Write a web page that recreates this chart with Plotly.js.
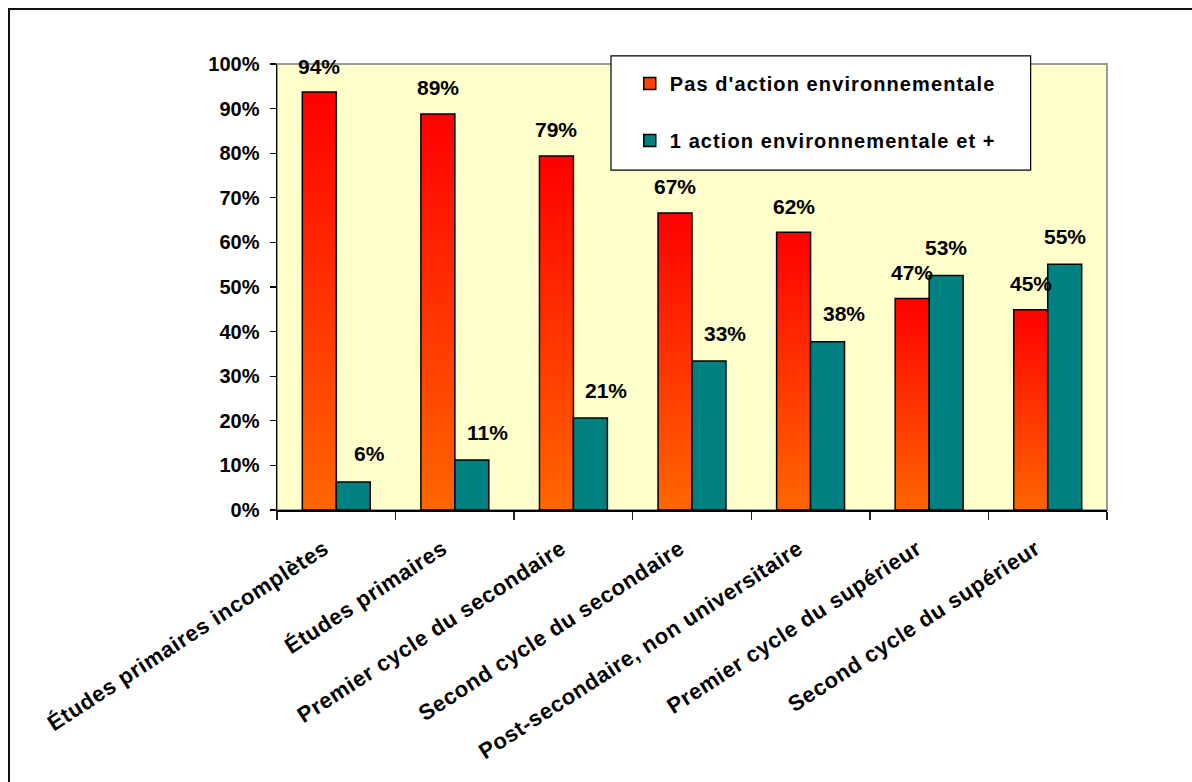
<!DOCTYPE html>
<html>
<head>
<meta charset="utf-8">
<script src="https://cdn.plot.ly/plotly-3.0.1.min.js"></script>
<style>
  html, body { margin: 0; padding: 0; background: #fff; }
  #wrap { position: relative; width: 1192px; height: 782px; overflow: hidden; }
  #chart { position: absolute; left: 0; top: 0; width: 1192px; height: 782px; }
  #frame { position: absolute; left: 8px; top: 8px; width: 1300px; height: 900px;
           border-left: 2px solid #111; border-top: 2px solid #111; pointer-events: none; }
  .xtick text { letter-spacing: 0.6px; }
  .legendtext { letter-spacing: 1.1px; }
</style>
</head>
<body>
<div id="wrap">
  <div id="chart"></div>
  <div id="frame"></div>
</div>
<script>
const categories = [
  "Études primaires incomplètes",
  "Études primaires",
  "Premier cycle du secondaire",
  "Second cycle du secondaire",
  "Post-secondaire, non universitaire",
  "Premier cycle du supérieur",
  "Second cycle du supérieur"
];
const seriesNames = ["Pas d'action environnementale", "1 action environnementale et +"];
const noAction = [93.7, 88.8, 79.4, 66.6, 62.3, 47.4, 44.9];
const withAction = [6.3, 11.2, 20.6, 33.4, 37.7, 52.6, 55.1];
const yTickValues = [0, 10, 20, 30, 40, 50, 60, 70, 80, 90, 100];
const yTickLabels = ["0%", "10%", "20%", "30%", "40%", "50%", "60%", "70%", "80%", "90%", "100%"];

const FONT = "Liberation Sans, Arial, sans-serif";
const RED = "#FF4400";
const TEAL = "#008080";

const traces = [
  {
    type: "bar", name: seriesNames[0], x: categories, y: noAction,
    marker: { color: RED, line: { color: "#000", width: 1.5 } },
    legendgroup: "a", hoverinfo: "skip"
  },
  {
    type: "bar", name: seriesNames[1], x: categories, y: withAction,
    marker: { color: TEAL, line: { color: "#000", width: 1.5 } },
    legendgroup: "b", hoverinfo: "skip"
  }
];

const labelFont = { family: FONT, size: 21, color: "#000", weight: "bold" };
const annotations = [];
categories.forEach((c, i) => {
  annotations.push({
    x: c, y: noAction[i], xref: "x", yref: "y", showarrow: false,
    text: "<b>" + Math.round(noAction[i]) + "%</b>",
    font: labelFont, xanchor: "center", yanchor: "middle",
    xshift: -17, yshift: 26
  });
  annotations.push({
    x: c, y: withAction[i], xref: "x", yref: "y", showarrow: false,
    text: "<b>" + Math.round(withAction[i]) + "%</b>",
    font: labelFont, xanchor: "center", yanchor: "middle",
    xshift: withAction[i] < noAction[i] ? 33 : 17, yshift: 28
  });
});

const layout = {
  width: 1192, height: 782,
  margin: { l: 277, r: 85, t: 64, b: 272, autoexpand: false },
  paper_bgcolor: "#ffffff",
  plot_bgcolor: "#FFFFCC",
  font: { family: FONT, size: 20, color: "#000" },
  barmode: "group",
  bargap: 0.427,
  bargroupgap: 0,
  showlegend: true,
  legend: {
    x: 0.425, y: 1.0, xanchor: "left", yanchor: "top",
    bgcolor: "rgba(0,0,0,0)", borderwidth: 0,
    font: { family: FONT, size: 20, color: "#000", weight: "bold" },
    traceorder: "grouped", tracegroupgap: 28
  },
  xaxis: {
    type: "category",
    tickangle: -33,
    ticks: "outside", tickson: "boundaries", ticklen: 8, tickcolor: "#222", tickwidth: 1.3,
    ticklabelstandoff: 16, ticklabelshift: -12,
    showline: true, linecolor: "#000", linewidth: 1.5,
    showgrid: false, zeroline: false, automargin: false,
    tickfont: { family: FONT, size: 22, color: "#000", weight: "bold" }
  },
  yaxis: {
    range: [0, 100],
    tickvals: yTickValues, ticktext: yTickLabels,
    ticks: "outside", ticklen: 6, tickcolor: "#000", tickwidth: 1.3,
    ticklabelstandoff: 6,
    showline: true, linecolor: "#000", linewidth: 1.5,
    showgrid: false, zeroline: false, automargin: false,
    tickfont: { family: FONT, size: 20, color: "#000", weight: "bold" }
  },
  shapes: [
    { type: "rect", xref: "paper", yref: "paper", x0: 0, x1: 1, y0: 0, y1: 1,
      line: { color: "#9a9a9a", width: 2 }, layer: "below" },
    { type: "rect", xref: "paper", yref: "paper", x0: 0.4024, x1: 0.908, y0: 0.762, y1: 1.018,
      fillcolor: "#ffffff", line: { color: "#000", width: 1.2 }, layer: "above" }
  ],
  annotations: annotations
};

Plotly.newPlot("chart", traces, layout, { staticPlot: true, displayModeBar: false }).then(gd => {
  const NS = "http://www.w3.org/2000/svg";
  const svg = gd.querySelector("svg.main-svg");
  let defs = svg.querySelector("defs");
  if (!defs) { defs = document.createElementNS(NS, "defs"); svg.insertBefore(defs, svg.firstChild); }
  const grad = document.createElementNS(NS, "linearGradient");
  grad.setAttribute("id", "redgrad");
  grad.setAttribute("x1", "0"); grad.setAttribute("y1", "0");
  grad.setAttribute("x2", "0"); grad.setAttribute("y2", "1");
  [["0", "#FF0000"], ["1", "#FF6600"]].forEach(([o, c]) => {
    const s = document.createElementNS(NS, "stop");
    s.setAttribute("offset", o); s.setAttribute("stop-color", c);
    grad.appendChild(s);
  });
  defs.appendChild(grad);
  const barTraces = gd.querySelectorAll(".barlayer .trace");
  if (barTraces.length) {
    barTraces[0].querySelectorAll("path").forEach(p => { p.style.fill = "url(#redgrad)"; });
  }
});
</script>
</body>
</html>
